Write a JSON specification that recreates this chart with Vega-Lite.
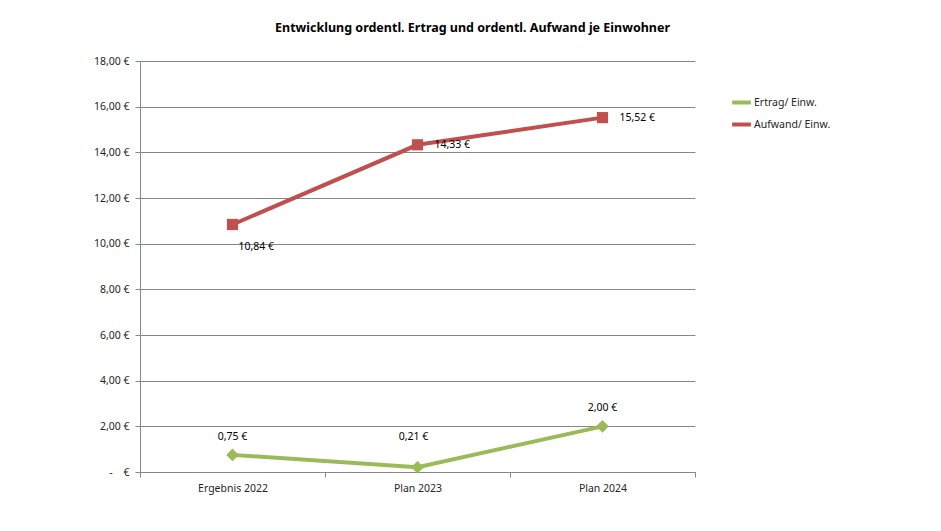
{
  "$schema": "https://vega.github.io/schema/vega-lite/v6.json",
  "width": 555,
  "height": 411,
  "autosize": {"type": "none"},
  "padding": {"left": 140, "top": 61, "right": 246, "bottom": 59},
  "background": "white",
  "title": {
    "text": "Entwicklung ordentl. Ertrag und ordentl. Aufwand je Einwohner",
    "font": "Noto Sans",
    "fontSize": 12.5,
    "fontWeight": "bold",
    "color": "#000000",
    "anchor": "middle",
    "frame": "group",
    "dx": 55,
    "offset": 22
  },
  "data": {
    "values": [
      {"kategorie": "Ergebnis 2022", "reihe": "Ertrag/ Einw.", "wert": 0.75},
      {"kategorie": "Plan 2023", "reihe": "Ertrag/ Einw.", "wert": 0.21},
      {"kategorie": "Plan 2024", "reihe": "Ertrag/ Einw.", "wert": 2.00},
      {"kategorie": "Ergebnis 2022", "reihe": "Aufwand/ Einw.", "wert": 10.84},
      {"kategorie": "Plan 2023", "reihe": "Aufwand/ Einw.", "wert": 14.33},
      {"kategorie": "Plan 2024", "reihe": "Aufwand/ Einw.", "wert": 15.52}
    ]
  },
  "transform": [
    {"calculate": "replace(format(datum.wert, '.2f'), '.', ',') + ' €'", "as": "label"}
  ],
  "encoding": {
    "x": {
      "field": "kategorie",
      "type": "nominal",
      "sort": ["Ergebnis 2022", "Plan 2023", "Plan 2024"],
      "scale": {"type": "band", "paddingInner": 0, "paddingOuter": 0},
      "axis": {
        "title": null,
        "labelAngle": 0,
        "tickBand": "extent",
        "domainColor": "#868686",
        "tickColor": "#868686",
        "tickSize": 5,
        "labelPadding": 6,
        "labelFont": "Noto Sans",
        "labelFontSize": 10.5,
        "labelColor": "#262626",
        "grid": false
      }
    },
    "y": {
      "field": "wert",
      "type": "quantitative",
      "scale": {"domain": [0, 18], "nice": false, "zero": true},
      "axis": {
        "title": null,
        "values": [0, 2, 4, 6, 8, 10, 12, 14, 16, 18],
        "labelExpr": "datum.value == 0 ? '-\u00a0\u00a0\u00a0\u00a0€' : replace(format(datum.value, '.2f'), '.', ',') + ' €'",
        "domainColor": "#868686",
        "tickColor": "#868686",
        "tickSize": 5,
        "labelPadding": 6,
        "gridColor": "#868686",
        "gridWidth": 1,
        "labelFont": "Noto Sans",
        "labelFontSize": 10.5,
        "labelColor": "#262626"
      }
    }
  },
  "layer": [
    {
      "mark": {"type": "line", "strokeWidth": 4},
      "encoding": {
        "color": {
          "field": "reihe",
          "type": "nominal",
          "scale": {"domain": ["Ertrag/ Einw.", "Aufwand/ Einw."], "range": ["#9BBB59", "#C0504D"]},
          "legend": {
            "title": null,
            "orient": "none",
            "legendX": 590,
            "legendY": 30,
            "symbolType": "stroke",
            "symbolStrokeWidth": 4,
            "symbolSize": 350,
            "labelFont": "Noto Sans",
            "labelFontSize": 10.5,
            "labelColor": "#262626",
            "labelOffset": 1,
            "rowPadding": 2
          }
        }
      }
    },
    {
      "transform": [{"filter": "datum.reihe == 'Ertrag/ Einw.'"}],
      "mark": {"type": "point", "filled": true, "opacity": 1, "shape": "diamond", "size": 160, "color": "#9BBB59"}
    },
    {
      "transform": [{"filter": "datum.reihe == 'Aufwand/ Einw.'"}],
      "mark": {"type": "point", "filled": true, "opacity": 1, "shape": "square", "size": 125, "color": "#C0504D"}
    },
    {
      "transform": [{"filter": "datum.reihe == 'Ertrag/ Einw.' && datum.kategorie != 'Plan 2023'"}],
      "mark": {"type": "text", "dy": -18, "font": "Noto Sans", "fontSize": 10.5, "color": "#000000"},
      "encoding": {"text": {"field": "label"}}
    },
    {
      "transform": [{"filter": "datum.reihe == 'Ertrag/ Einw.' && datum.kategorie == 'Plan 2023'"}],
      "mark": {"type": "text", "dy": -30, "dx": -4, "font": "Noto Sans", "fontSize": 10.5, "color": "#000000"},
      "encoding": {"text": {"field": "label"}}
    },
    {
      "transform": [{"filter": "datum.reihe == 'Aufwand/ Einw.' && datum.kategorie != 'Ergebnis 2022'"}],
      "mark": {"type": "text", "align": "left", "dx": 17, "dy": 0, "font": "Noto Sans", "fontSize": 10.5, "color": "#000000"},
      "encoding": {"text": {"field": "label"}}
    },
    {
      "transform": [{"filter": "datum.reihe == 'Aufwand/ Einw.' && datum.kategorie == 'Ergebnis 2022'"}],
      "mark": {"type": "text", "align": "left", "dx": 6, "dy": 23, "font": "Noto Sans", "fontSize": 10.5, "color": "#000000"},
      "encoding": {"text": {"field": "label"}}
    }
  ],
  "config": {
    "view": {"stroke": null}
  }
}
